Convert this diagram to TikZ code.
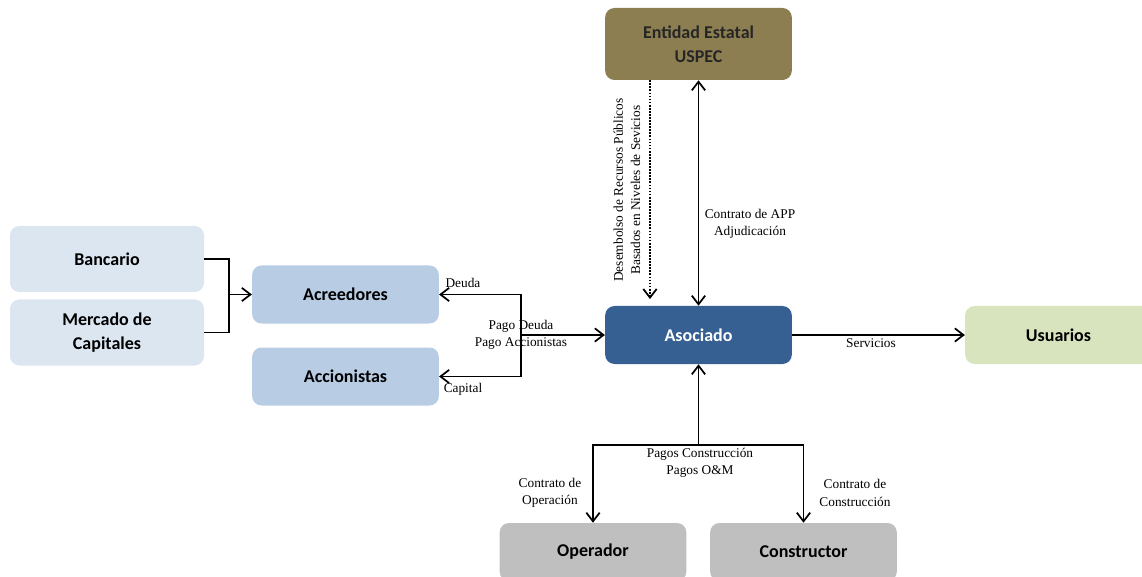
\documentclass[tikz,border=0pt]{standalone}
\usepackage{fontspec}
\setmainfont{Liberation Serif}
\newfontfamily\boxfont{Carlito}
\usetikzlibrary{arrows.meta}
\definecolor{uspecc}{RGB}{140,126,80}
\definecolor{asocc}{RGB}{54,96,146}
\definecolor{acrec}{RGB}{184,204,228}
\definecolor{bancc}{RGB}{220,230,241}
\definecolor{usuac}{RGB}{215,228,189}
\definecolor{grisc}{RGB}{191,191,191}

\begin{document}
\begin{tikzpicture}[x=0.75pt, y=-0.75pt,
		>={Straight Barb[length=6.5pt,width=10pt,line width=1.3pt]},
		box/.style={rounded corners=7pt, align=center, inner sep=0pt,
			minimum width=140pt, minimum height=43.5pt,
			font=\boxfont\bfseries\fontsize{13.5}{18}\selectfont},
		lbl/.style={align=center, inner sep=0pt, font=\fontsize{10}{13}\selectfont},
		conn/.style={line width=1.3pt}]
		\useasboundingbox (0,0) rectangle (1142,577);
		% boxes
		\node[box, fill=uspecc, text=black!85, minimum height=54pt] (uspec) at (698.5,44) {Entidad Estatal\\USPEC};
		\node[box, fill=asocc, text=white] (asoc) at (698.5,335) {Asociado};
		\node[box, fill=usuac] (usua) at (1058.5,335) {Usuarios};
		\node[box, fill=bancc, minimum width=145.5pt, minimum height=49.5pt] (banc) at (107,259) {Bancario};
		\node[box, fill=bancc, minimum width=145.5pt, minimum height=49.5pt] (merc) at (107,332.5) {Mercado de\\Capitales};
		\node[box, fill=acrec] (acre) at (345.5,294.5) {Acreedores};
		\node[box, fill=acrec] (acci) at (345.5,376.5) {Accionistas};
		\node[box, fill=grisc] (oper) at (593,552) {Operador};
		\node[box, fill=grisc] (cons) at (803.5,552) {Constructor};
		% financing
		\coordinate (bj) at (229,294.5);
		\draw[conn] (banc.east) -| (bj) |- (merc.east);
		\draw[conn,->] (bj) -- (acre.west);
		\coordinate (dj) at (521,335);
		\draw[conn,->] (dj) |- (acre.east);
		\draw[conn,->] (dj) |- (acci.east);
		\draw[conn,->] (dj) -- (asoc.west);
		\node[lbl] (ldeu) at (463,283) {Deuda};
		\node[lbl] (lcap) at (463,389) {Capital};
		\node[lbl] (lpag) at (521,335) {Pago Deuda\\Pago Accionistas};
		% state entity
		\draw[conn,<->] (uspec.south) -- (asoc.north);
		\draw[conn,->,densely dotted,shorten >=5pt] ([xshift=-36.4pt]uspec.south) -- ([xshift=-36.4pt]asoc.north);
		\node[lbl] (lapp) at (750,224) {Contrato de APP\\Adjudicación};
		\node[lbl, rotate=90] (ldes) at (627,190) {Desembolso de Recursos Públicos\\Basados en Niveles de Sevicios};
		% users
		\draw[conn,->] (asoc.east) -- (usua.west);
		\node[lbl] (lser) at (871,343) {Servicios};
		% contractors
		\coordinate (cj) at (698.5,445);
		\draw[conn,->] (cj) -- (asoc.south);
		\draw[conn,->] (cj) -| (oper.north);
		\draw[conn,->] (cj) -| (cons.north);
		\node[lbl] (lpco) at (700,463) {Pagos Construcción\\Pagos O\&M};
		\node[lbl] (lope) at (550,493) {Contrato de\\Operación};
		\node[lbl] (lcon) at (855,493) {Contrato de\\Construcción};
	\end{tikzpicture}
\end{document}
